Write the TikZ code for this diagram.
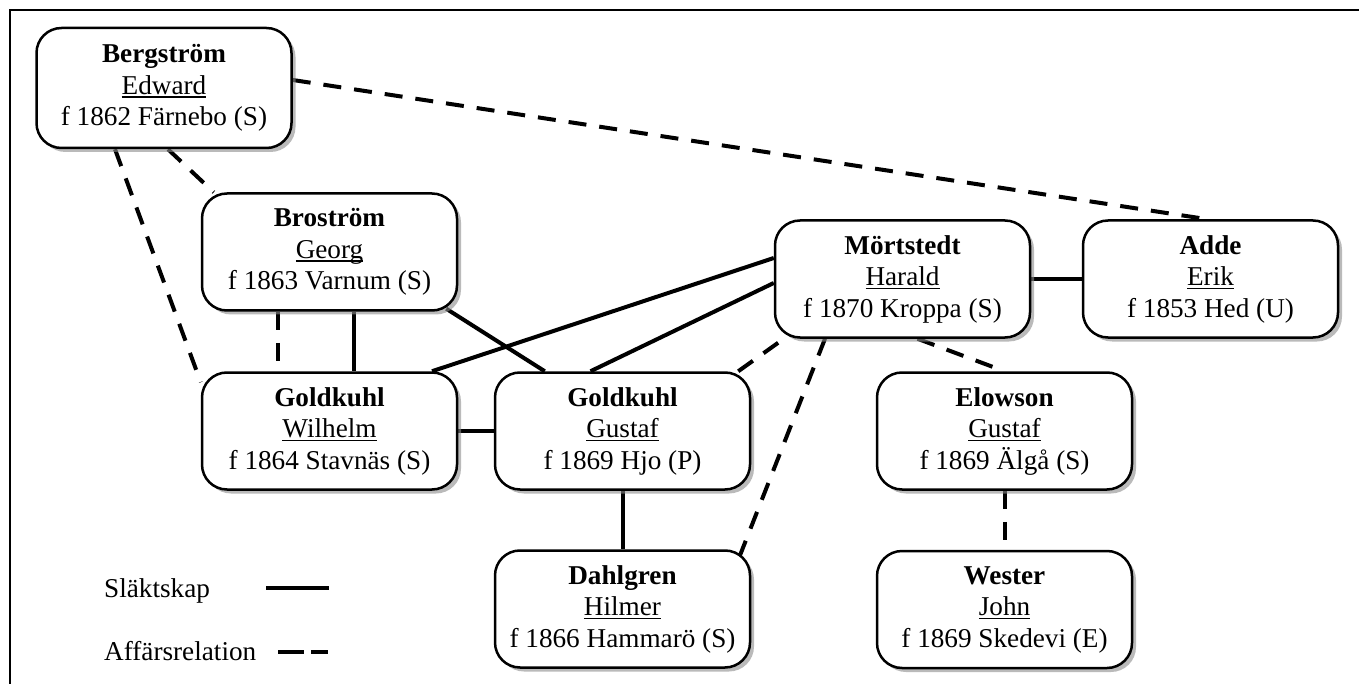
\documentclass[tikz,border=0pt]{standalone}
\usepackage{fontspec}
\setmainfont{Liberation Serif}
\usetikzlibrary{shadows,backgrounds}
\newcommand\myul[1]{\setbox0\hbox{#1}\rlap{\rule[-3.8pt]{\wd0}{1.8pt}}\box0}
\newcommand\person[3]{\textbf{#1}\\\myul{#2}\\#3}
\begin{document}
\begin{tikzpicture}[x=1pt,y=-1pt,
  pbox/.style={draw, line width=2.5pt, rounded corners=25pt, fill=white,
    minimum width=255pt, minimum height=117pt, align=center, inner sep=0pt,
    font=\fontsize{27.2}{31.5}\selectfont,
    drop shadow={shadow xshift=4pt, shadow yshift=-4pt, fill=black!45, opacity=0.6}},
  rel/.style={line width=4pt},
  biz/.style={line width=4pt, dash pattern=on 18pt off 13pt},
  leg/.style={anchor=base west, inner sep=0pt, font=\fontsize{27.2}{31.5}\selectfont}]
\useasboundingbox (0,0) rectangle (1359,684);
\draw[line width=2pt] (1365,10) -- (10,10) -- (10,690);

\node[pbox, minimum height=120pt] (berg) at (164,88) {\person{Bergström}{Edward}{f 1862 Färnebo (S)}};
\node[pbox] (bros) at (329.5,252) {\person{Broström}{Georg}{f 1863 Varnum (S)}};
\node[pbox] (wilh) at (329.5,431) {\person{Goldkuhl}{Wilhelm}{f 1864 Stavnäs (S)}};
\node[pbox] (gust) at (622.5,431) {\person{Goldkuhl}{Gustaf}{f 1869 Hjo (P)}};
\node[pbox] (dahl) at (622.5,609) {\person{Dahlgren}{Hilmer}{f 1866 Hammarö (S)}};
\node[pbox] (mort) at (902.5,279) {\person{Mörtstedt}{Harald}{f 1870 Kroppa (S)}};
\node[pbox] (adde) at (1210.5,279) {\person{Adde}{Erik}{f 1853 Hed (U)}};
\node[pbox] (elow) at (1004.5,431) {\person{Elowson}{Gustaf}{f 1869 Älgå (S)}};
\node[pbox] (west) at (1004.5,609.5) {\person{Wester}{John}{f 1869 Skedevi (E)}};

\begin{scope}[on background layer]
\draw[biz] ([yshift=8pt]berg.east) -- ([xshift=-3pt]adde.north);
\draw[biz] ([xshift=4pt]berg.south) -- ([xshift=13pt]bros.north west);
\draw[biz] ([xshift=-49pt]berg.south) -- ([yshift=-11pt]wilh.north west);
\draw[biz] ([xshift=-51.5pt]bros.south) -- ([xshift=-51.5pt]wilh.north);
\draw[rel] ([xshift=24.5pt]bros.south) -- ([xshift=24.5pt]wilh.north);
\draw[rel] ([xshift=-12pt,yshift=3pt]bros.south east) -- ([xshift=51pt]gust.north west);
\draw[rel] ([xshift=102.5pt]wilh.north) -- ([yshift=21pt]mort.west);
\draw[rel] ([xshift=-32pt]gust.north) -- ([yshift=-4pt]mort.west);
\draw[biz] ([xshift=-13pt]gust.north east) -- ([xshift=10pt]mort.south west);
\draw[biz] ([xshift=-77.5pt]mort.south) -- ([xshift=-12pt,yshift=-8pt]dahl.north east);
\draw[biz] ([xshift=15pt]mort.south) -- (elow.north);
\draw[rel] (mort.east) -- (adde.west);
\draw[rel] (wilh.east) -- (gust.west);
\draw[rel] (gust.south) -- (dahl.north);
\draw[biz] (elow.south) -- (west.north);
\end{scope}

\node[leg] (l1) at (104,597) {Släktskap};
\node[leg] (l2) at (104,660) {Affärsrelation};
\coordinate (l1a) at (266,588);
\coordinate (l1b) at (329,588);
\coordinate (l2a) at (278,652);
\coordinate (l2b) at (328,652);
\draw[rel] (l1a) -- (l1b);
\draw[rel, dash pattern=on 26pt off 7pt] (l2a) -- (l2b);
\end{tikzpicture}
\end{document}
